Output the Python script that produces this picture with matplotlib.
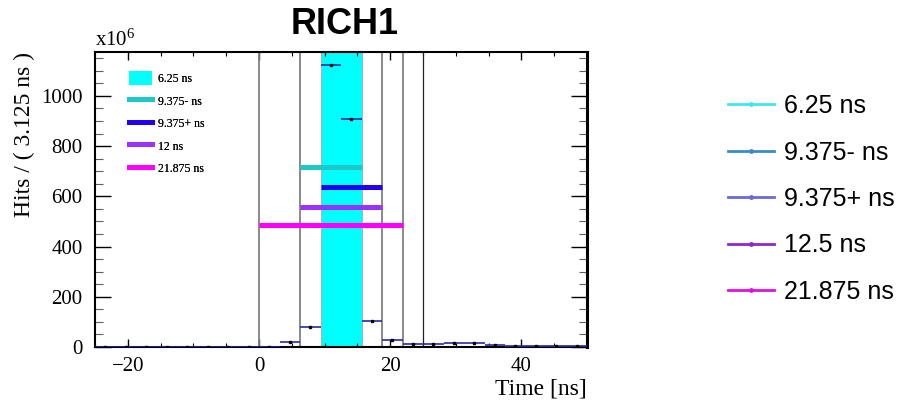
import matplotlib
matplotlib.use("Agg")
import matplotlib.pyplot as plt
from matplotlib.lines import Line2D
from matplotlib.patches import Patch
import numpy as np

# ---- data ----
bin_width = 3.125
bin_centers = [-23.4375, -20.3125, -17.1875, -14.0625, -10.9375, -7.8125, -4.6875, -1.5625,
               1.5625, 4.6875, 7.8125, 10.9375, 14.0625, 17.1875, 20.3125, 23.4375,
               26.5625, 29.6875, 32.8125, 35.9375, 39.0625, 42.1875, 45.3125, 48.4375]
hits = [0.5, 0.5, 0.5, 0.5, 0.5, 0.5, 0.5, 0.5,
        0.5, 21, 81, 1124, 908, 104, 26, 12,
        10, 14, 17, 8, 3, 2, 2, 2]

window_labels = ["6.25 ns", "9.375- ns", "9.375+ ns", "12 ns", "21.875 ns"]
window_levels = [None, 716, 636, 556, 484]
window_starts = [9.375, 6.25, 9.375, 6.25, 0.0]
window_ends = [15.625, 15.625, 18.75, 18.75, 21.875]
inner_colors = ["#00ffff", "#1ec8c8", "#2200f0", "#9933ff", "#ff00ff"]

gray_lines = [0.0, 6.25, 18.75, 21.875]
black_lines = [25.0]

outer_labels = ["6.25 ns", "9.375- ns", "9.375+ ns", "12.5 ns", "21.875 ns"]
outer_colors = ["#3fe6f2", "#3a8cc6", "#6a6ad6", "#8a2ad0", "#e010e0"]

x_ticks = [-20, 0, 20, 40]
y_ticks = [0, 200, 400, 600, 800, 1000]

plt.rcParams['mathtext.fontset'] = 'custom'
plt.rcParams['mathtext.rm'] = 'Liberation Serif'
plt.rcParams['mathtext.it'] = 'Liberation Serif'

fig = plt.figure(figsize=(9.03, 4.0), dpi=100)
ax = fig.add_axes([95/903, 1 - 347/400, (587-95)/903, (347-52)/400])

serif = "Liberation Serif"

# cyan band
ax.axvspan(window_starts[0], window_ends[0], facecolor=inner_colors[0], edgecolor="#b0b0b0",
           linewidth=0.8, zorder=1)
for xv in gray_lines:
    ax.axvline(xv, color="#808080", linewidth=1.3, zorder=2)
for xv in black_lines:
    ax.axvline(xv, color="#202020", linewidth=0.9, zorder=2)

# window bars
for lvl, x0, x1, c in zip(window_levels[1:], window_starts[1:], window_ends[1:], inner_colors[1:]):
    ax.hlines(lvl, x0, x1, colors=c, linewidth=3.6, zorder=3)

# histogram points
ax.errorbar(bin_centers, hits, xerr=bin_width/2, fmt='s', ms=2.0, mfc='black', mec='black',
            ecolor="#2a2aa8", elinewidth=1.2, capsize=0, zorder=5)

ax.set_xlim(-25, 50)
ax.set_ylim(0, 1175)
ax.set_xticks(x_ticks)
ax.set_xticks(np.arange(-25, 51, 5), minor=True)
ax.set_yticks(y_ticks)
ax.set_yticks(np.arange(0, 1176, 50), minor=True)
ax.set_xticklabels([f"{t}".replace("-", "\u2212") for t in x_ticks], fontfamily=serif, fontsize=15)
ax.set_yticklabels([str(t) for t in y_ticks], fontfamily=serif, fontsize=15)
ax.tick_params(axis='both', which='both', direction='in', top=True, right=True)
ax.tick_params(axis='x', which='major', length=6, width=1.0, pad=7)
ax.tick_params(axis='x', which='minor', length=3, width=0.8)
ax.tick_params(axis='y', which='major', length=11.5, width=1.0, pad=9)
ax.tick_params(axis='y', which='minor', length=5.8, width=0.8, color="#606060")
for s in ax.spines.values():
    s.set_linewidth(1.5)
ax.spines['right'].set_linewidth(2.2)

ax.set_xlabel("Time [ns]", fontfamily=serif, fontsize=17, loc='right', labelpad=2)
ax.set_ylabel("Hits / ( 3.125 ns )", fontfamily=serif, fontsize=17, loc='top', labelpad=4)

ax.text(0.0, 1.004, r"x10$^{6}$", transform=ax.transAxes, fontfamily=serif, fontsize=15,
        ha='left', va='bottom')

fig.text(345/903, 1 - 25/400, "RICH1", fontfamily="Liberation Sans", fontweight='bold',
         fontsize=26, ha='center', va='center')

# inner legend
inner_handles = [Patch(facecolor=inner_colors[0], edgecolor='none')]
inner_handles += [Line2D([0], [0], color=c, linewidth=3.6) for c in inner_colors[1:]]
leg_in = ax.legend(inner_handles, window_labels, loc='upper left', bbox_to_anchor=(0.06, 0.95),
                   frameon=False, prop={'family': serif, 'size': 8.5}, handlelength=1.95,
                   handleheight=1.4, handletextpad=0.45, labelspacing=0.74, borderaxespad=0)
ax.add_artist(leg_in)

# outer legend
outer_handles = [Line2D([0], [0], color=c, linewidth=2, marker='o', ms=2.5) for c in outer_colors]
fig.legend(outer_handles, outer_labels, loc='upper left', bbox_to_anchor=(718/903, 1 - 84/400),
           frameon=False, prop={'family': 'Liberation Sans', 'size': 18}, handlelength=1.85,
           handletextpad=0.4, labelspacing=0.9, borderaxespad=0)

fig.savefig("out.png", dpi=100)
